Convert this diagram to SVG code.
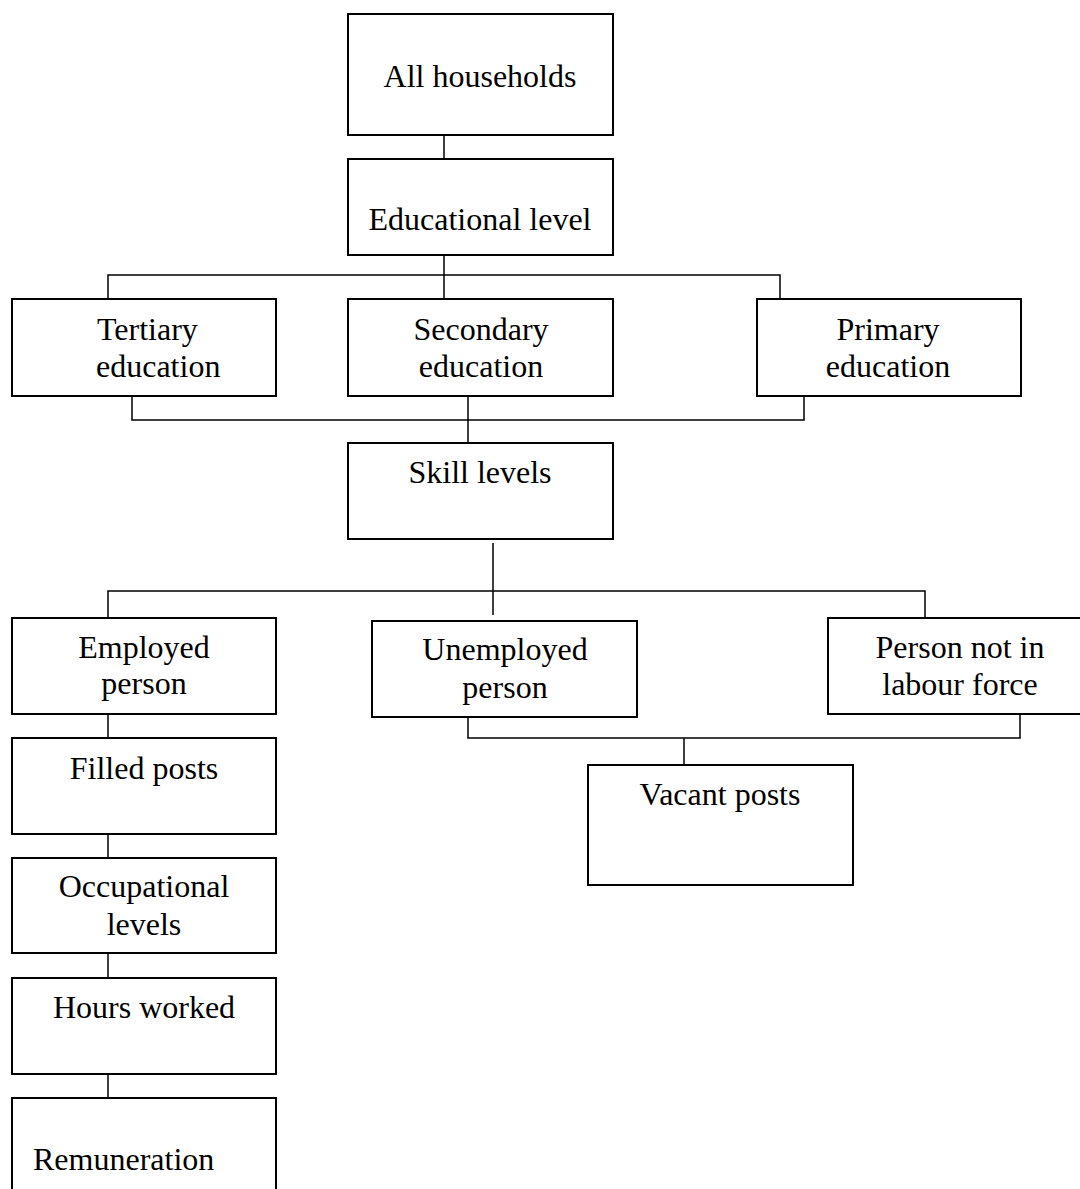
<svg xmlns="http://www.w3.org/2000/svg" width="1080" height="1189" viewBox="0 0 1080 1189">
<style>
.box{fill:#fff;stroke:#000;stroke-width:2}
.ln{fill:none;stroke:#000;stroke-width:1.5}
text{font-family:"Liberation Serif","Times New Roman",serif;font-size:32px;fill:#000}
.c{text-anchor:middle}
</style>
<rect width="1080" height="1189" fill="#fff"/>
<g id="connectors">
<path class="ln" d="M444 135V159"/>
<path class="ln" d="M444 251V303"/>
<path class="ln" d="M108 299V275H780V299"/>
<path class="ln" d="M132 396V420H804V396"/>
<path class="ln" d="M468 396V443"/>
<path class="ln" d="M493 543V615"/>
<path class="ln" d="M108 618V591H925V618"/>
<path class="ln" d="M468 717V738H1020V714"/>
<path class="ln" d="M684 738V765"/>
<path class="ln" d="M108 714V738"/>
<path class="ln" d="M108 834V858"/>
<path class="ln" d="M108 953V978"/>
<path class="ln" d="M108 1074V1098"/>
</g>
<g id="n-all-households"><rect class="box" x="348" y="14" width="265" height="121"/><text class="c" x="480" y="87">All households</text></g>
<g id="n-educational-level"><rect class="box" x="348" y="159" width="265" height="96"/><text class="c" x="480" y="230">Educational level</text></g>
<g id="n-tertiary"><rect class="box" x="12" y="299" width="264" height="97"/><text x="97" y="340">Tertiary</text><text x="96" y="377">education</text></g>
<g id="n-secondary"><rect class="box" x="348" y="299" width="265" height="97"/><text class="c" x="481" y="340">Secondary</text><text class="c" x="481" y="377">education</text></g>
<g id="n-primary"><rect class="box" x="757" y="299" width="264" height="97"/><text class="c" x="888" y="340">Primary</text><text class="c" x="888" y="377">education</text></g>
<g id="n-skill-levels"><rect class="box" x="348" y="443" width="265" height="96"/><text class="c" x="480" y="483">Skill levels</text></g>
<g id="n-employed"><rect class="box" x="12" y="618" width="264" height="96"/><text class="c" x="144" y="658">Employed</text><text class="c" x="144" y="694">person</text></g>
<g id="n-unemployed"><rect class="box" x="372" y="621" width="265" height="96"/><text class="c" x="505" y="660">Unemployed</text><text class="c" x="505" y="698">person</text></g>
<g id="n-not-in-labour-force"><rect class="box" x="828" y="618" width="264" height="96"/><text class="c" x="960" y="658">Person not in</text><text class="c" x="960" y="695">labour force</text></g>
<g id="n-filled-posts"><rect class="box" x="12" y="738" width="264" height="96"/><text class="c" x="144" y="779">Filled posts</text></g>
<g id="n-vacant-posts"><rect class="box" x="588" y="765" width="265" height="120"/><text class="c" x="720" y="805">Vacant posts</text></g>
<g id="n-occupational-levels"><rect class="box" x="12" y="858" width="264" height="95"/><text class="c" x="144" y="897">Occupational</text><text class="c" x="144" y="935">levels</text></g>
<g id="n-hours-worked"><rect class="box" x="12" y="978" width="264" height="96"/><text class="c" x="144" y="1018">Hours worked</text></g>
<g id="n-remuneration"><rect class="box" x="12" y="1098" width="264" height="110"/><text x="33" y="1170">Remuneration</text></g>
</svg>
